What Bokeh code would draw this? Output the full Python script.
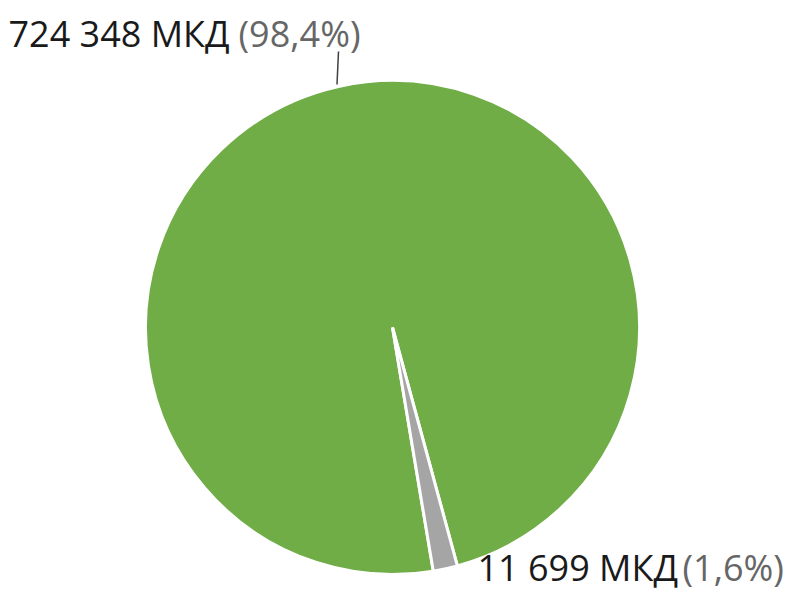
import math
from bokeh.plotting import figure
from bokeh.models import Range1d
from bokeh.core.properties import value
from bokeh.embed import file_html
from bokeh.resources import INLINE

# Data
categories = ["A", "B"]
amounts = [724348, 11699]
colors = ["#70AD47", "#A5A5A5"]

total = sum(amounts)
pcts = [a / total * 100 for a in amounts]

def fmt_amount(v):
    return f"{v:,}".replace(",", " ") + " МКД"

def fmt_pct(p):
    return "(" + f"{p:.1f}".replace(".", ",") + "%)"

W, H = 784, 592
p = figure(width=W, height=H, output_backend="svg", toolbar_location=None,
           x_range=Range1d(0, W), y_range=Range1d(0, H),
           min_border=0, outline_line_color=None)
p.axis.visible = False
p.grid.visible = False
p.background_fill_color = "white"
p.border_fill_color = "white"

def Y(y):
    return H - y

cx, cy, r = 392, Y(327), 247
start_cw_from_top = 170.5  # first slice rotation (clockwise from 12 o'clock)
ang = math.radians(90 - start_cw_from_top)
for amt, col in zip(amounts, colors):
    sweep = 2 * math.pi * amt / total
    p.wedge(x=[cx], y=[cy], radius=r, start_angle=[ang], end_angle=[ang - sweep],
            direction="clock", fill_color=col, line_color="white", line_width=3)
    ang -= sweep

# leader line
p.line(x=[338, 336.5], y=[Y(51), Y(84)], line_color="#404040", line_width=1.5)

font = value("Open Sans")
fs = "36px"
labels = [
    (8, 33, 238),
    (477, 567, 682),
]
for (x0, yb, x1), amt, pc in zip(labels, amounts, pcts):
    p.text(x=[x0], y=[Y(yb)], text=[fmt_amount(amt)], text_font=font,
           text_font_size=fs, text_color="#1a1a1a", text_baseline="alphabetic",
           text_align="left")
    p.text(x=[x1], y=[Y(yb)], text=[fmt_pct(pc)], text_font=font,
           text_font_size=fs, text_color="#666666", text_baseline="alphabetic",
           text_align="left")

open("out.html", "w").write(file_html(p, INLINE))
